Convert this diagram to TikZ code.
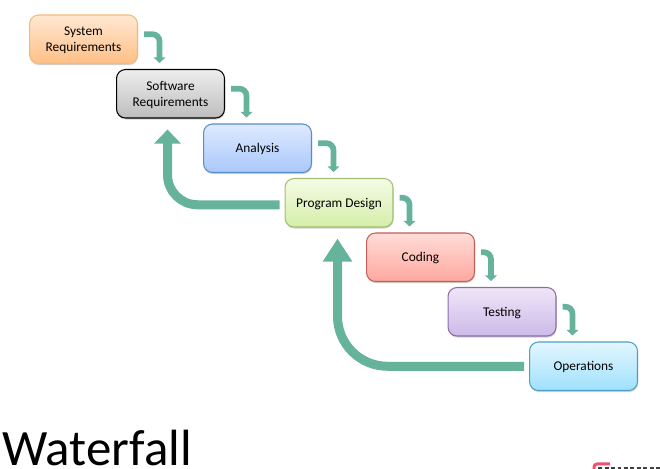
\documentclass[tikz,border=0pt]{standalone}
\usepackage{fontspec}
\setmainfont{Carlito}
\usetikzlibrary{arrows.meta}
\usetikzlibrary{shadows}
\definecolor{arrowgreen}{HTML}{66B39C}
\definecolor{logored}{HTML}{F0506E}
\tikzset{
  phasebox/.style={draw, rounded corners=1.8mm, line width=0.6pt, minimum width=2.16cm, minimum height=0.97cm,
    align=center, inner sep=0pt, text depth=0pt, font=\fontsize{7.6}{9.4}\selectfont, anchor=north west,
    drop shadow={shadow xshift=0.3pt, shadow yshift=-0.9pt, opacity=0.18, fill=black}},
  steparrow/.style={draw=arrowgreen, line width=0.115cm, rounded corners=1.4mm, -{Triangle[length=0.11cm, width=0.23cm]}},
  backarrow/.style={draw=arrowgreen, line width=0.18cm, -{Triangle[length=0.28cm, width=0.52cm]}}
}
\begin{document}
\begin{tikzpicture}[x=0.02cm, y=-0.02cm]
\useasboundingbox (0,0) rectangle (660,469);
\node(sys) [phasebox, draw={rgb,255:red,245;green,185;blue,123}, top color={rgb,255:red,255;green,232;blue,210}, bottom color={rgb,255:red,255;green,191;blue,134}] at (29,14.5) {System\\Requirements};
\node(soft) [phasebox, draw=black, top color={rgb,255:red,238;green,238;blue,238}, bottom color={rgb,255:red,189;green,189;blue,189}] at (116,69) {Software\\Requirements};
\node(ana) [phasebox, draw={rgb,255:red,91;green,140;blue,200}, top color={rgb,255:red,222;green,234;blue,255}, bottom color={rgb,255:red,169;green,200;blue,250}] at (203,123.5) {Analysis};
\node(prog) [phasebox, draw={rgb,255:red,163;green,190;blue,115}, top color={rgb,255:red,245;green,251;blue,230}, bottom color={rgb,255:red,212;green,238;blue,168}] at (284.5,178) {Program Design};
\node(cod) [phasebox, draw={rgb,255:red,192;green,96;blue,90}, top color={rgb,255:red,255;green,220;blue,216}, bottom color={rgb,255:red,255;green,168;blue,158}] at (366,232.5) {Coding};
\node(tst) [phasebox, draw={rgb,255:red,138;green,108;blue,166}, top color={rgb,255:red,239;green,230;blue,248}, bottom color={rgb,255:red,205;green,185;blue,232}] at (447.5,287) {Testing};
\node(ops) [phasebox, draw={rgb,255:red,78;green,159;blue,198}, top color={rgb,255:red,227;green,246;blue,255}, bottom color={rgb,255:red,159;green,225;blue,252}] at (529,341.5) {Operations};
% small arrows
\draw[steparrow] ([xshift=0.12cm, yshift=0.1cm]sys.east) -| ([xshift=-0.22cm, yshift=0.12cm]soft.north);
\draw[steparrow] ([xshift=0.12cm, yshift=0.1cm]soft.east) -| ([xshift=-0.22cm, yshift=0.12cm]ana.north);
\draw[steparrow] ([xshift=0.12cm, yshift=0.1cm]ana.east) -| ([xshift=-0.11cm, yshift=0.12cm]prog.north);
\draw[steparrow] ([xshift=0.12cm, yshift=0.1cm]prog.east) -| ([xshift=-0.22cm, yshift=0.12cm]cod.north);
\draw[steparrow] ([xshift=0.12cm, yshift=0.1cm]cod.east) -| ([xshift=-0.22cm, yshift=0.12cm]tst.north);
\draw[steparrow] ([xshift=0.12cm, yshift=0.1cm]tst.east) -| ([xshift=-0.22cm, yshift=0.12cm]ops.north);
% big arrows
\draw[backarrow, rounded corners=0.6cm] ([xshift=-0.1cm, yshift=-0.04cm]prog.west) -| ([xshift=-0.06cm, yshift=-0.22cm]soft.south);
\draw[backarrow, rounded corners=1cm, -{Triangle[length=0.46cm, width=0.56cm]}] ([xshift=-0.1cm]ops.west) -| ([xshift=-0.03cm, yshift=-0.22cm]prog.south);
\node(title) [anchor=base west, inner sep=0pt, font=\fontsize{29}{30}\selectfont] at (2,466) {Waterfall};
% logo corner
\draw[draw=logored, line width=0.06cm, rounded corners=0.06cm] (594,469) |- (610,464);
\draw[draw=black!75, line width=0.04cm, dash pattern=on 0.08cm off 0.05cm] (598,468.5) -- (660,468.5);
\end{tikzpicture}
\end{document}
